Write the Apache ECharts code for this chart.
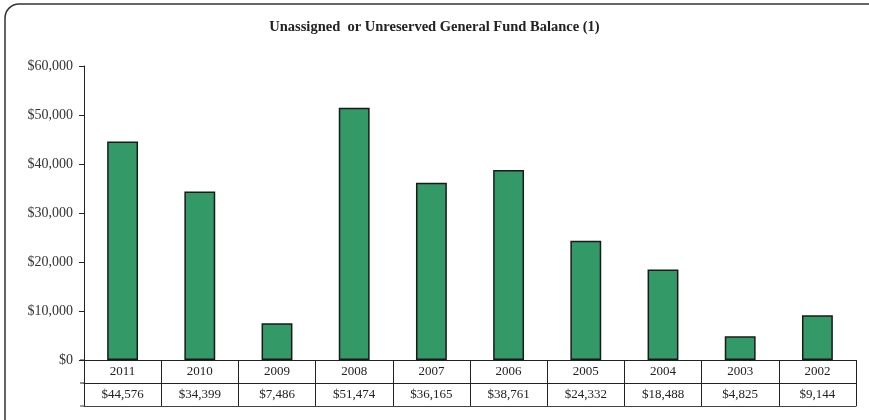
<!DOCTYPE html>
<html><head><meta charset="utf-8">
<script src="https://cdn.jsdelivr.net/npm/echarts@6/dist/echarts.min.js"></script>
<style>html,body{margin:0;padding:0;background:#fff}#c{width:869px;height:420px}</style>
</head><body><div id="c"></div>
<script>
const titleText = "Unassigned  or Unreserved General Fund Balance (1)";
const years = ["2011","2010","2009","2008","2007","2006","2005","2004","2003","2002"];
const balances = [44576, 34399, 7486, 51474, 36165, 38761, 24332, 18488, 4825, 9144];
const yTicks = [0, 10000, 20000, 30000, 40000, 50000, 60000];

const fmt = v => "$" + v.toLocaleString("en-US");
const font = "'Liberation Serif', 'Times New Roman', serif";

const chart = echarts.init(document.getElementById("c"), null, {renderer: "canvas"});
chart.setOption({
  animation: false,
  backgroundColor: "#fff",
  title: {
    text: titleText, left: "center", top: 15,
    textStyle: {fontFamily: font, fontSize: 14.5, fontWeight: "bold", color: "#222"}
  },
  grid: {left: 84, right: 13, top: 66, bottom: 60, containLabel: false},
  xAxis: [
    {type: "category", data: years, position: "bottom",
     axisLine: {show: true, lineStyle: {color: "#222", width: 1}},
     axisTick: {show: true, inside: false, length: 46, alignWithLabel: false, lineStyle: {color: "#222", width: 1}},
     axisLabel: {fontFamily: font, fontSize: 13, color: "#222", margin: 5}},
    {type: "category", data: balances.map(fmt), position: "bottom", offset: 23,
     axisLine: {show: true, lineStyle: {color: "#222", width: 1}},
     axisTick: {show: false},
     axisLabel: {fontFamily: font, fontSize: 13, color: "#222", margin: 5}},
    {type: "category", data: years, position: "bottom", offset: 46,
     axisLine: {show: true, lineStyle: {color: "#444", width: 1}},
     axisTick: {show: false}, axisLabel: {show: false}}
  ],
  yAxis: {
    type: "value", min: yTicks[0], max: yTicks[yTicks.length - 1], interval: 10000,
    axisLine: {show: true, lineStyle: {color: "#222", width: 1}},
    axisTick: {show: true, inside: false, length: 5, lineStyle: {color: "#222"}},
    splitLine: {show: false},
    axisLabel: {fontFamily: font, fontSize: 14, color: "#333", margin: 11, formatter: v => fmt(v)}
  },
  series: [{
    type: "bar", data: balances, xAxisIndex: 0, barWidth: "40%",
    itemStyle: {color: "#339966", borderColor: "#1a1a1a", borderWidth: 1.5}
  }],
  graphic: [
    {type: "rect", shape: {x: 5, y: 4, width: 880, height: 440, r: 14},
     style: {fill: null, stroke: "#333", lineWidth: 1.5}, silent: true, z: 100},
    {type: "line", shape: {x1: 80, y1: 360, x2: 84, y2: 360}, style: {stroke: "#222", lineWidth: 1}},
    {type: "line", shape: {x1: 80, y1: 383, x2: 84, y2: 383}, style: {stroke: "#222", lineWidth: 1}},
    {type: "line", shape: {x1: 80, y1: 406, x2: 84, y2: 406}, style: {stroke: "#444", lineWidth: 1}}
  ]
});
</script></body></html>
